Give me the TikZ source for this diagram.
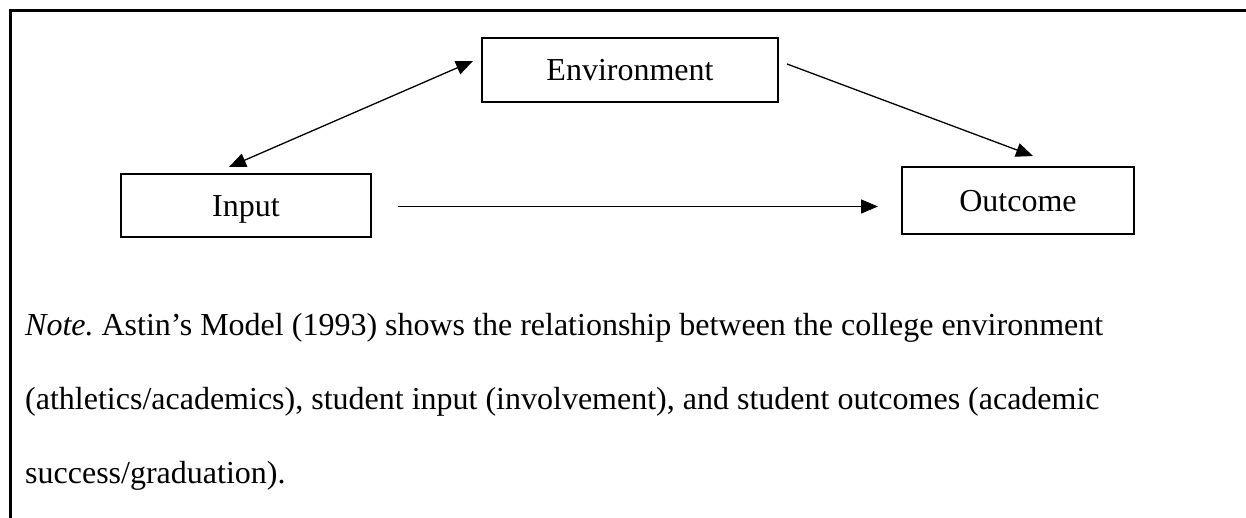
\documentclass[tikz,border=0pt]{standalone}
\usepackage{fontspec}
\setmainfont{Liberation Serif}
\usetikzlibrary{arrows.meta}
\frenchspacing
\begin{document}
\begin{tikzpicture}[x=1pt,y=-1pt,
  box/.style={draw=black, line width=2.8pt, inner sep=0pt, font=\fontsize{32}{38}\selectfont, text height=22pt, text depth=0pt, align=center},
  conn/.style={draw=black, line width=1.3pt, -{Triangle[length=17pt,width=14pt]}},
  biconn/.style={draw=black, line width=1.3pt, {Triangle[length=17pt,width=14pt]}-{Triangle[length=17pt,width=14pt]}},
  note/.style={anchor=base west, inner sep=0pt, font=\fontsize{32}{38}\selectfont}]
\useasboundingbox (0,0) rectangle (1246,518);
% outer frame (left and top edges visible)
\draw[line width=3pt] (10,518) -- (10,11) -- (1246,11);
% boxes
\node[box, minimum width=296pt, minimum height=64pt] (env) at (630,70) {Environment};
\node[box, minimum width=250pt, minimum height=63pt] (in) at (246,205.5) {Input};
\node[box, minimum width=232pt, minimum height=67pt] (out) at (1018,200.5) {Outcome};
% connector ends
\coordinate (bA) at (229,167);
\coordinate (bB) at (473,61);
\coordinate (eS) at (787,64);
\coordinate (eT) at (1033,156);
\coordinate (iS) at (398,206.5);
\coordinate (iT) at (878,206.5);
\draw[biconn] (bA) -- (bB);
\draw[conn] (eS) -- (eT);
\draw[conn] (iS) -- (iT);
% note text
\node[note] (n1) at (25,335) {\textit{Note.}\/ Astin’s Model (1993) shows the relationship between the college environment};
\node[note] (n2) at (25,409) {(athletics/academics), student input (involvement), and student outcomes (academic};
\node[note] (n3) at (25,483) {success/graduation).};
\end{tikzpicture}
\end{document}
